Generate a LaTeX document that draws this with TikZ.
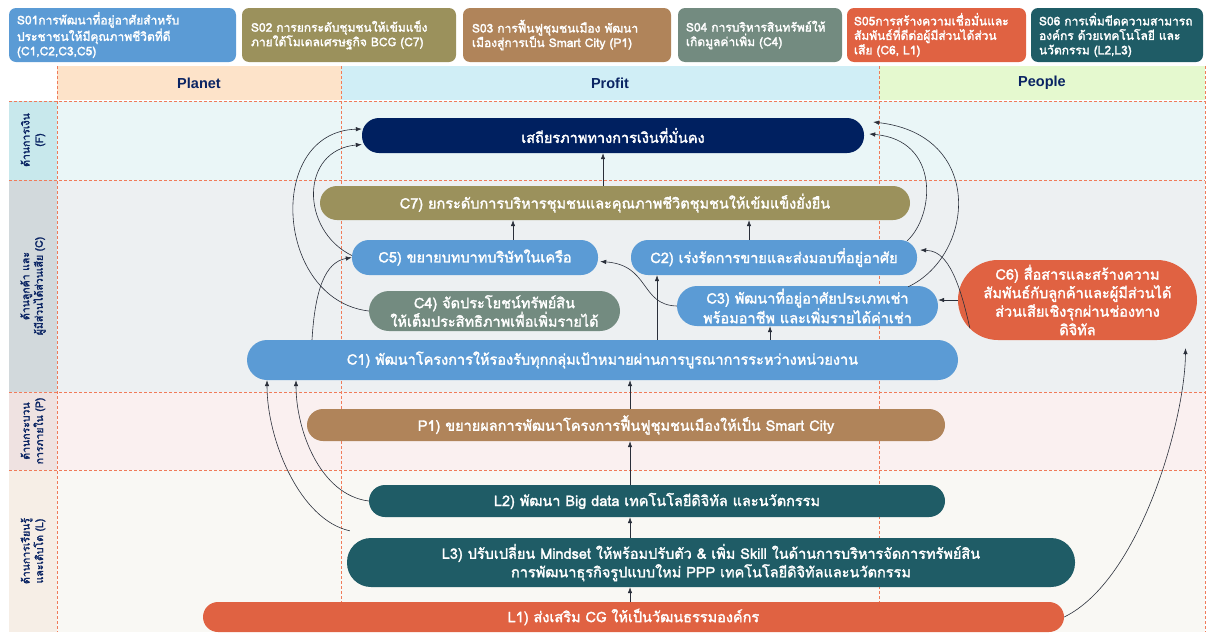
\documentclass[tikz,border=0pt]{standalone}
\usepackage{fontspec}
\setsansfont{Liberation Sans}
\newfontfamily\thaifont[Script=Thai,AutoFakeBold=2]{Loma}
\usetikzlibrary{arrows.meta}
\definecolor{sblue}{HTML}{5B9BD5}
\definecolor{solive}{HTML}{9B915C}
\definecolor{sbrown}{HTML}{B0845A}
\definecolor{sgrey}{HTML}{738B80}
\definecolor{sorange}{HTML}{E06242}
\definecolor{steal}{HTML}{1F5C66}
\definecolor{finnavy}{HTML}{002060}
\definecolor{headtext}{HTML}{0A2463}
\definecolor{planetc}{HTML}{FDE3C9}
\definecolor{profitc}{HTML}{D0EEF6}
\definecolor{peoplec}{HTML}{E5F9CF}
\definecolor{rowf}{HTML}{EAF6F7}
\definecolor{labf}{HTML}{C8E8EC}
\definecolor{rowc}{HTML}{EDF0F2}
\definecolor{labc}{HTML}{D2D9DC}
\definecolor{rowp}{HTML}{FAF0F0}
\definecolor{labp}{HTML}{EFE2E1}
\definecolor{rowl}{HTML}{F9F8F4}
\definecolor{labl}{HTML}{F6EEE6}
\definecolor{gridc}{HTML}{F07B5A}
\definecolor{linec}{HTML}{2A2F3A}
\begin{document}
\begin{tikzpicture}[x=1pt,y=-1pt,
    pill/.style={fill=#1,text=white,rounded corners=17pt,align=center,inner sep=0pt,
        font=\thaifont\bfseries\fontsize{14.5}{18.5}\selectfont},
    sbox/.style={fill=#1,text=white,rounded corners=7pt,align=left,inner sep=0pt,
        minimum height=54pt,font=\thaifont\bfseries\fontsize{12}{14.5}\selectfont},
    head/.style={text=headtext,font=\sffamily\bfseries\fontsize{14.5}{16}\selectfont},
    side/.style={rotate=90,align=center,text=headtext,
        font=\thaifont\bfseries\fontsize{10.5}{13.5}\selectfont},
    gridline/.style={draw=gridc,line width=0.8pt,dash pattern=on 3pt off 2pt},
    arr/.style={-{Latex[length=6pt,width=4.5pt]},draw=linec,line width=0.6pt}]
\useasboundingbox (0,0) rectangle (1208,635);
% strategy boxes on top
\node[sbox=sblue,minimum width=227pt,text width=211pt] (s01) at (122.5,35) {S01การพัฒนาที่อยู่อาศัยสำหรับ\\ประชาชนให้มีคุณภาพชีวิตที่ดี\\(C1,C2,C3,C5)};
\node[sbox=solive,minimum width=214pt,text width=196pt] (s02) at (349,35) {S02 การยกระดับชุมชนให้เข้มแข็ง\\ภายใต้โมเดลเศรษฐกิจ BCG (C7)};
\node[sbox=sbrown,minimum width=208pt,text width=190pt] (s03) at (567,35) {S03 การฟื้นฟูชุมชนเมือง พัฒนา\\เมืองสู่การเป็น Smart City (P1)};
\node[sbox=sgrey,minimum width=164pt,text width=148pt] (s04) at (760,35) {S04 การบริหารสินทรัพย์ให้\\เกิดมูลค่าเพิ่ม (C4)};
\node[sbox=sorange,minimum width=179pt,text width=165pt] (s05) at (936.5,35) {S05การสร้างความเชื่อมั่นและ\\สัมพันธ์ที่ดีต่อผู้มีส่วนได้ส่วน\\เสีย (C6, L1)};
\node[sbox=steal,minimum width=172pt,text width=156pt] (s06) at (1117,35) {S06 การเพิ่มขีดความสามารถ\\องค์กร ด้วยเทคโนโลยี และ\\นวัตกรรม (L2,L3)};
% header band
\fill[planetc] (57,66) rectangle (341,100);
\fill[profitc] (341,66) rectangle (879,100);
\fill[peoplec] (879,66) rectangle (1205,100);
\node[head] (planet) at (199,83) {Planet};
\node[head] (profit) at (610,83) {Profit};
\node[head] (people) at (1042,83) {People};
% perspective rows
\fill[rowf] (57,101) rectangle (1205,180); \fill[labf] (9,101) rectangle (57,180);
\fill[rowc] (57,180) rectangle (1205,392); \fill[labc] (9,180) rectangle (57,392);
\fill[rowp] (57,392) rectangle (1205,470); \fill[labp] (9,392) rectangle (57,470);
\fill[rowl] (57,470) rectangle (1205,632); \fill[labl] (9,470) rectangle (57,632);
\node[side] (labF) at (33,140) {ด้านการเงิน\\(F)};
\node[side] (labC) at (33,286) {ด้านลูกค้า และ\\ผู้มีส่วนได้ส่วนเสีย (C)};
\node[side] (labP) at (33,431) {ด้านกระบวน\\การภายใน (P)};
\node[side] (labL) at (33,551) {ด้านการเรียนรู้\\และเติบโต (L)};
\foreach \y in {101,180,392,470} \draw[gridline] (9,\y) -- (1205,\y);
\foreach \x in {57,341,879,1205} \draw[gridline] (\x,66) -- (\x,632);
% objectives
\node[pill=finnavy,minimum width=502pt,minimum height=35pt] (fin) at (613,135.5) {เสถียรภาพทางการเงินที่มั่นคง};
\node[pill=solive,minimum width=590pt,minimum height=34pt] (c7) at (615,203) {C7) ยกระดับการบริหารชุมชนและคุณภาพชีวิตชุมชนให้เข้มแข็งยั่งยืน};
\node[pill=sblue,minimum width=246pt,minimum height=35pt] (c5) at (475,257.5) {C5) ขยายบทบาทบริษัทในเครือ};
\node[pill=sblue,minimum width=286pt,minimum height=35pt] (c2) at (774,257.5) {C2) เร่งรัดการขายและส่งมอบที่อยู่อาศัย};
\node[pill=sgrey,minimum width=251pt,minimum height=40pt,rounded corners=20pt] (c4) at (494.5,311) {C4) จัดประโยชน์ทรัพย์สิน\\ให้เต็มประสิทธิภาพเพื่อเพิ่มรายได้};
\node[pill=sblue,minimum width=261pt,minimum height=40pt,rounded corners=20pt] (c3) at (807.5,306) {C3) พัฒนาที่อยู่อาศัยประเภทเช่า\\พร้อมอาชีพ และเพิ่มรายได้ค่าเช่า};
\node[pill=sorange,minimum width=239pt,minimum height=80pt,rounded corners=40pt] (c6) at (1077.5,300) {C6) สื่อสารและสร้างความ\\สัมพันธ์กับลูกค้าและผู้มีส่วนได้\\ส่วนเสียเชิงรุกผ่านช่องทาง\\ดิจิทัล};
\node[pill=sblue,minimum width=711pt,minimum height=40pt,rounded corners=20pt] (c1) at (602.5,360) {C1) พัฒนาโครงการให้รองรับทุกกลุ่มเป้าหมายผ่านการบูรณาการระหว่างหน่วยงาน};
\node[pill=sbrown,minimum width=638pt,minimum height=32pt,rounded corners=16pt] (p1) at (626,425) {P1) ขยายผลการพัฒนาโครงการฟื้นฟูชุมชนเมืองให้เป็น Smart City};
\node[pill=steal,minimum width=576pt,minimum height=32pt,rounded corners=16pt] (l2) at (657,501) {L2) พัฒนา Big data เทคโนโลยีดิจิทัล และนวัตกรรม};
\node[pill=steal,minimum width=728pt,minimum height=49pt,rounded corners=24pt] (l3) at (711,562.5) {L3) ปรับเปลี่ยน Mindset ให้พร้อมปรับตัว \& เพิ่ม Skill ในด้านการบริหารจัดการทรัพย์สิน\\การพัฒนาธุรกิจรูปแบบใหม่ PPP เทคโนโลยีดิจิทัลและนวัตกรรม};
\node[pill=sorange,minimum width=861pt,minimum height=30pt,rounded corners=15pt] (l1) at (633.5,617) {L1) ส่งเสริม CG ให้เป็นวัฒนธรรมองค์กร};
% straight links
\draw[arr] (c7.north -| 603,0) -- (fin.south -| 603,0);
\draw[arr] (c5.north -| 513,0) -- (c7.south -| 513,0);
\draw[arr] (c2.north -| 749,0) -- (c7.south -| 749,0);
\draw[arr] (c1.north -| 657,0) -- (c2.south -| 657,0);
\draw[arr] (c1.north -| 770,0) -- (c3.south -| 770,0);
\draw[arr] (c6.west) -- (c6.west -| c3.east);
\draw[arr] (p1.north -| 630,0) -- (c1.south -| 630,0);
\draw[arr] (l2.north -| 630,0) -- (p1.south -| 630,0);
\draw[arr] (l3.north -| 630,0) -- (l2.south -| 630,0);
\draw[arr] (l1.north -| 630,0) -- (l3.south -| 630,0);
% curved links
\draw[arr] ([yshift=2pt]c5.west) .. controls (300,230) and (300,150) .. ([yshift=-9pt]fin.west);
\draw[arr] (c4.west) .. controls (275,300) and (265,132) .. ([yshift=6.5pt]fin.west);
\draw[arr] (c1.north -| 312,0) .. controls (315,290) and (325,262) .. (c5.west);
\draw[arr] (l2.west) .. controls (320,495) and (296,430) .. (c1.south -| 296,0);
\draw[arr] ([xshift=3pt,yshift=7pt]l3.north west) .. controls (300,520) and (267,440) .. (c1.south -| 267,0);
\draw[arr] ([xshift=-10pt,yshift=-1pt]c2.north east) .. controls (935,215) and (940,140) .. ([xshift=5pt,yshift=1.5pt]fin.east);
\draw[arr] ([xshift=-30pt,yshift=-1pt]c3.north east) .. controls (975,255) and (985,135) .. ([xshift=9pt,yshift=13.5pt]fin.east);
\draw[arr] ([xshift=12pt,yshift=-28pt]c6.west) .. controls (955,260) and (940,251) .. ([xshift=3pt,yshift=7.5pt]c2.east);
\draw[arr] (c3.west) .. controls (640,305) and (650,265) .. ([xshift=2pt,yshift=-4pt]c5.east);
\draw[arr] (l1.east) .. controls (1140,580) and (1185,420) .. ([xshift=108pt,yshift=-8pt]c6.south);
\end{tikzpicture}
\end{document}
